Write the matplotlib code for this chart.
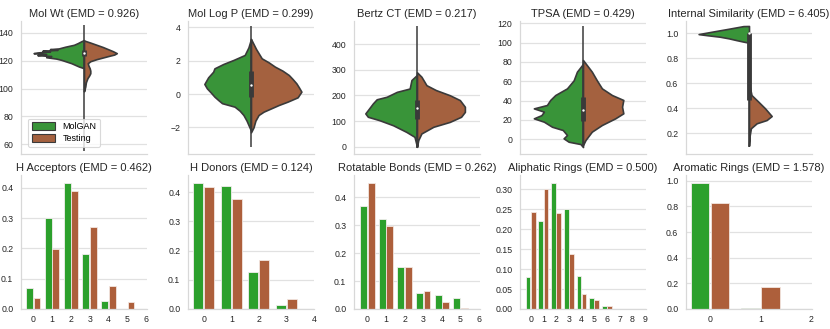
import matplotlib
matplotlib.use('Agg')
import matplotlib.pyplot as plt
from matplotlib.patches import Patch
import numpy as np

plt.rcParams['font.family'] = ['Liberation Sans', 'DejaVu Sans']

# ---------------- data ----------------
# violin profiles: value (y) and half-width, top to bottom
molwt_g_y = [134.8, 134.0, 132.6, 131.4, 130.0, 128.8, 128.3, 127.8, 127.1, 126.6, 125.9, 125.4, 124.7, 124.0, 123.3, 122.5, 121.5, 120.6, 119.4, 118.2, 117.0, 115.8, 114.6]
molwt_g_w = [0.0, 0.02, 0.05, 0.08, 0.15, 0.20, 0.27, 0.21, 0.33, 0.27, 0.37, 0.40, 0.30, 0.37, 0.26, 0.30, 0.22, 0.18, 0.14, 0.10, 0.07, 0.04, 0.0]
molwt_b_y = [134.5, 133.0, 131.4, 129.8, 128.3, 126.8, 125.4, 124.4, 123.5, 122.3, 121.1, 119.6, 118.2, 116.5, 114.6, 112.8, 111.0, 109.2, 107.4, 104.5, 101.4, 98.0]
molwt_b_w = [0.0, 0.05, 0.10, 0.15, 0.19, 0.23, 0.26, 0.24, 0.20, 0.15, 0.10, 0.05, 0.03, 0.035, 0.045, 0.05, 0.05, 0.04, 0.027, 0.015, 0.01, 0.0]
molwt_box = [55, 123.5, 125.5, 127.5, 145.5]   # min, q1, median, q3, max

logp_g_y = [3.3, 2.8, 2.34, 2.04, 1.8, 1.54, 1.34, 1.0, 0.6, 0.34, 0.1, -0.16, -0.36, -0.55, -0.76, -1.0, -1.26, -1.6, -1.86, -2.2]
logp_g_w = [0.0, 0.02, 0.05, 0.14, 0.22, 0.29, 0.30, 0.34, 0.37, 0.35, 0.32, 0.29, 0.26, 0.23, 0.13, 0.09, 0.06, 0.035, 0.02, 0.0]
logp_b_y = [3.3, 2.7, 2.14, 1.9, 1.64, 1.4, 1.14, 0.9, 0.64, 0.4, 0.14, -0.2, -0.46, -0.66, -0.86, -1.06, -1.26, -1.6, -2.0, -2.3]
logp_b_w = [0.0, 0.04, 0.085, 0.14, 0.19, 0.25, 0.30, 0.33, 0.36, 0.38, 0.40, 0.37, 0.29, 0.22, 0.16, 0.10, 0.06, 0.035, 0.02, 0.0]
logp_box = [-3.2, -0.2, 0.54, 1.4, 4.1]

bertz_g_y = [280, 260, 227, 214, 195, 185, 169, 156, 143, 130, 117, 104, 84, 58, 39, 20, 0]
bertz_g_w = [0.0, 0.044, 0.058, 0.16, 0.24, 0.32, 0.35, 0.37, 0.39, 0.41, 0.39, 0.30, 0.19, 0.084, 0.02, 0.01, 0.0]
bertz_b_y = [290, 273, 240, 221, 201, 182, 156, 136, 117, 97, 78, 52, 26, 0]
bertz_b_w = [0.0, 0.035, 0.075, 0.15, 0.26, 0.34, 0.38, 0.38, 0.35, 0.26, 0.13, 0.035, 0.01, 0.0]
bertz_box = [-6, 110, 150, 182, 470]

tpsa_g_y = [78, 70, 61, 52.7, 45.8, 40.7, 35.5, 32, 28.6, 25.0, 21.7, 18.2, 13, 9.6, 4.4, 1.0, -2.5, -4.9, -8]
tpsa_g_w = [0.0, 0.048, 0.074, 0.127, 0.22, 0.26, 0.286, 0.39, 0.31, 0.33, 0.39, 0.31, 0.246, 0.16, 0.127, 0.154, 0.114, 0.02, 0.0]
tpsa_b_y = [82, 70, 61, 52.7, 45.8, 40.7, 33.7, 26.9, 21.7, 14.8, 7.9, -0.7, -6]
tpsa_b_w = [0.0, 0.07, 0.11, 0.15, 0.23, 0.32, 0.31, 0.32, 0.256, 0.15, 0.07, 0.02, 0.0]
tpsa_box = [-7.6, 19.3, 30.3, 44, 117]

sim_g_y = [1.059, 1.058, 1.037, 1.014, 0.994, 0.985, 0.973, 0.96, 0.946, 0.935, 0.925]
sim_g_w = [0.0, 0.045, 0.16, 0.29, 0.40, 0.33, 0.23, 0.16, 0.10, 0.05, 0.0]
sim_b_y = [0.60, 0.506, 0.453, 0.40, 0.338, 0.306, 0.28, 0.24, 0.18, 0.10]
sim_b_w = [0.0, 0.02, 0.074, 0.127, 0.18, 0.14, 0.061, 0.015, 0.005, 0.0]
sim_box = [0.093, 0.466, 1.0, 1.0, 1.0]

violin_titles = ['Mol Wt (EMD = 0.926)', 'Mol Log P (EMD = 0.299)', 'Bertz CT (EMD = 0.217)',
                 'TPSA (EMD = 0.429)', 'Internal Similarity (EMD = 6.405)']

# bar histograms
hacc_g = [0.07, 0.30, 0.415, 0.18, 0.027, 0.0]
hacc_b = [0.035, 0.198, 0.39, 0.272, 0.075, 0.022]
hdon_g = [0.433, 0.422, 0.126, 0.014]
hdon_b = [0.419, 0.376, 0.168, 0.033]
rot_g = [0.370, 0.321, 0.152, 0.058, 0.050, 0.038]
rot_b = [0.453, 0.297, 0.149, 0.066, 0.026, 0.002]
ali_g = [0.081, 0.2205, 0.317, 0.250, 0.084, 0.027, 0.0075, 0.0005]
ali_b = [0.242, 0.302, 0.240, 0.137, 0.0376, 0.0226, 0.0075, 0.001]
aro_g = [0.984, 0.005]
aro_b = [0.824, 0.169]

bar_titles = ['H Acceptors (EMD = 0.462)', 'H Donors (EMD = 0.124)', 'Rotatable Bonds (EMD = 0.262)',
              'Aliphatic Rings (EMD = 0.500)', 'Aromatic Rings (EMD = 1.578)']

# ---------------- style ----------------
GREEN = '#2ca02c'
BROWN = '#ad5f3b'
VGREEN = '#399439'
VBROWN = '#a4613f'
EDGE = '#3a3a3a'
GRID = '#e1e1e1'
TXT = '#262626'

W, H = 830, 329
fig = plt.figure(figsize=(W / 100, H / 100), dpi=100)
lefts = [21, 188, 354, 520, 686]
aw = 126


def style(ax, tsize=6.3):
    ax.set_facecolor('white')
    ax.grid(axis='y', color=GRID, lw=0.9)
    ax.grid(axis='x', visible=False)
    ax.set_axisbelow(True)
    for s in ['top', 'right']:
        ax.spines[s].set_visible(False)
    for s in ['left', 'bottom']:
        ax.spines[s].set_color('#d8d8d8')
        ax.spines[s].set_linewidth(0.9)
    ax.tick_params(length=0, labelsize=tsize, colors=TXT)
    ax.tick_params(axis='y', pad=5.5)
    ax.tick_params(axis='x', pad=4.5)


violins = [
    (molwt_g_y, molwt_g_w, molwt_b_y, molwt_b_w, molwt_box, (53, 148.5), [60, 80, 100, 120, 140]),
    (logp_g_y, logp_g_w, logp_b_y, logp_b_w, logp_box, (-3.6, 4.38), [-2, 0, 2, 4]),
    (bertz_g_y, bertz_g_w, bertz_b_y, bertz_b_w, bertz_box, (-28, 490), [0, 100, 200, 300, 400]),
    (tpsa_g_y, tpsa_g_w, tpsa_b_y, tpsa_b_w, tpsa_box, (-15.2, 122.4), [0, 20, 40, 60, 80, 100, 120]),
    (sim_g_y, sim_g_w, sim_b_y, sim_b_w, sim_box, (0.034, 1.099), [0.2, 0.4, 0.6, 0.8, 1.0]),
]

for i, (gy, gw, by, bw, box, ylim, yt) in enumerate(violins):
    ax = fig.add_axes([lefts[i] / W, 1 - 154 / H, aw / W, 133 / H])
    style(ax)
    gy = np.array(gy); gw = np.array(gw); by = np.array(by); bw = np.array(bw)
    ax.fill_betweenx(gy, -gw, 0, facecolor=VGREEN, edgecolor=EDGE, lw=1.2, zorder=2)
    ax.fill_betweenx(by, 0, bw, facecolor=VBROWN, edgecolor=EDGE, lw=1.2, zorder=2)
    mn, q1, med, q3, mx = box
    ax.plot([0, 0], [mn, mx], color=EDGE, lw=1.1, zorder=3, solid_capstyle='butt')
    ax.plot([0, 0], [q1, q3], color=EDGE, lw=3.5, zorder=4, solid_capstyle='butt')
    ax.scatter([0], [med], s=3, color='white', zorder=5, linewidths=0)
    ax.set_xlim(-0.5, 0.5)
    ax.set_ylim(*ylim)
    ax.set_xticks([])
    ax.set_yticks(yt)
    if i == 4:
        ax.set_yticklabels(['%.1f' % v for v in yt])
    ax.set_title(violin_titles[i], fontsize=8, color=TXT, pad=3)
    if i == 0:
        leg = ax.legend(handles=[Patch(facecolor=VGREEN, edgecolor=EDGE, lw=0.8, label='MolGAN'),
                                 Patch(facecolor=VBROWN, edgecolor=EDGE, lw=0.8, label='Testing')],
                        loc='lower left', fontsize=6.5, frameon=True, borderpad=0.4,
                        handlelength=2.6, handleheight=1.0, labelspacing=0.3,
                        bbox_to_anchor=(0.02, 0.02))
        leg.get_frame().set_edgecolor('#d0d0d0')
        leg.get_frame().set_linewidth(0.8)

bars = [
    (hacc_g, hacc_b, (-0.65, 6.05), (0, 0.442), [0, 0.1, 0.2, 0.3, 0.4], '%.1f', 7),
    (hdon_g, hdon_b, (-0.57, 4.0), (0, 0.459), [0, 0.1, 0.2, 0.3, 0.4], '%.1f', 5),
    (rot_g, rot_b, (-0.72, 6.05), (0, 0.48), [0, 0.1, 0.2, 0.3, 0.4], '%.1f', 7),
    (ali_g, ali_b, (-0.84, 9.08), (0, 0.336), [0, 0.05, 0.10, 0.15, 0.20, 0.25, 0.30], '%.2f', 10),
    (aro_g, aro_b, (-0.475, 2.02), (0, 1.045), [0, 0.2, 0.4, 0.6, 0.8, 1.0], '%.1f', 3),
]

for i, (g, b, xlim, ylim, yt, fmt, nt) in enumerate(bars):
    ax = fig.add_axes([lefts[i] / W, 1 - 309 / H, aw / W, 134 / H])
    style(ax)
    x = np.arange(len(g))
    ax.bar(x - 0.2, g, width=0.37, color=GREEN, edgecolor='#f2eeee', lw=0.6, zorder=2)
    ax.bar(x + 0.2, b, width=0.37, color=BROWN, edgecolor='#f2e6e0', lw=0.6, zorder=2)
    ax.set_xlim(*xlim)
    ax.set_ylim(*ylim)
    ax.set_xticks(range(nt))
    ax.set_yticks(yt)
    ax.set_yticklabels([fmt % v for v in yt])
    ax.set_title(bar_titles[i], fontsize=8, color=TXT, pad=3)

fig.savefig('out.png', dpi=100, facecolor='white')
